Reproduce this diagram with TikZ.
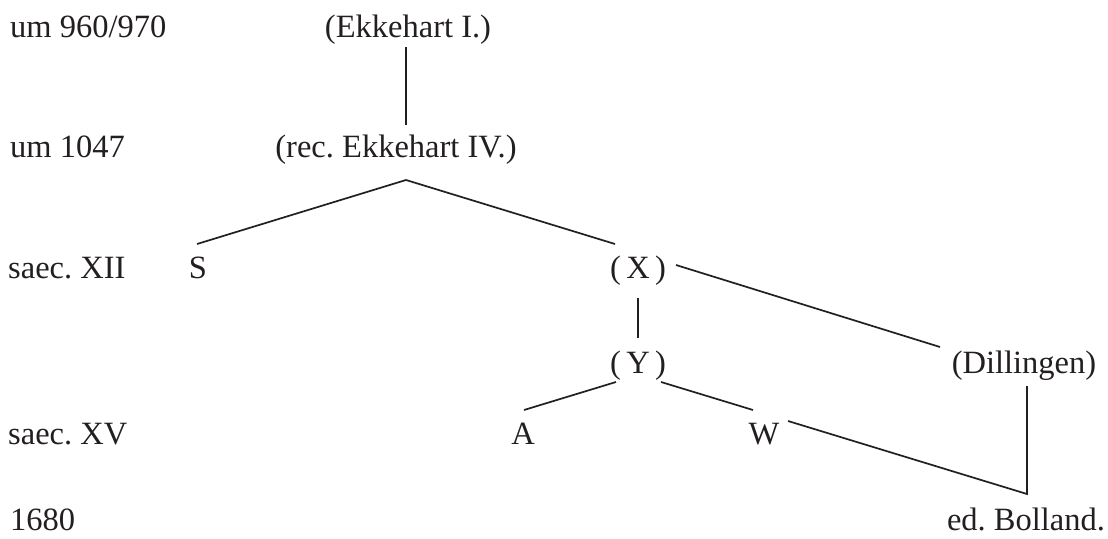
\documentclass[tikz,border=0pt]{standalone}
\usepackage{fontspec}
\setmainfont{Liberation Serif}
\usetikzlibrary{calc}
\definecolor{ink}{HTML}{231F20}
\frenchspacing
\begin{document}
\begin{tikzpicture}[x=1pt,y=-1pt,
  lbl/.style={anchor=base west,inner sep=0pt,text=ink,font=\fontsize{32.5}{39}\selectfont},
  ms/.style={anchor=base,inner sep=0pt,text=ink,font=\fontsize{32.5}{39}\selectfont},
  edge/.style={draw=ink,line width=1.7pt}]
\useasboundingbox (0,0) rectangle (1108,538);
% date column
\node[lbl] (d1) at (10,37) {um 960/970};
\node[lbl] (d2) at (10,157) {um 1047};
\node[lbl] (d3) at (8,278) {saec. XII};
\node[lbl] (d4) at (8,444) {saec. XV};
\node[lbl] (d5) at (10,530) {1680};
% manuscripts
\node[ms] (e1) at (408,37) {(Ekkehart I.)};
\node[ms] (e4) at (396,157) {(rec. Ekkehart IV.)};
\node[ms] (S) at (198,278) {S};
\node[ms] (X) at (638,278) {(\,X\,)};
\node[ms] (Y) at (638,373) {(\,Y\,)};
\node[ms] (Dil) at (1024,373) {(Dillingen)};
\node[ms] (A) at (523,444) {A};
\node[ms] (W) at (764,444) {W};
\node[ms] (Bol) at (1026,530) {ed. Bolland.};
% connectors
\draw[edge] ($(e1.base)+(-2,10)$) -- ($(e1.base)+(-2,88)$);
\draw[edge] ($(S.base)+(-1,-34)$) -- ($(e4.base)+(10,23)$) -- ($(X.base)+(-23,-34)$);
\draw[edge] ($(X.base)+(0,20)$) -- ($(Y.base)+(0,-35)$);
\draw[edge] ($(X.base)+(38,-13)$) -- ($(Dil.base)+(-84,-26)$);
\draw[edge] ($(Y.base)+(-22,9)$) -- ($(A.base)+(1,-34)$);
\draw[edge] ($(Y.base)+(23,9)$) -- ($(W.base)+(-11,-34)$);
\draw[edge] ($(W.base)+(24,-23)$) -- ($(Bol.base)+(1,-36)$) -- ($(Dil.base)+(3,13)$);
\end{tikzpicture}
\end{document}
